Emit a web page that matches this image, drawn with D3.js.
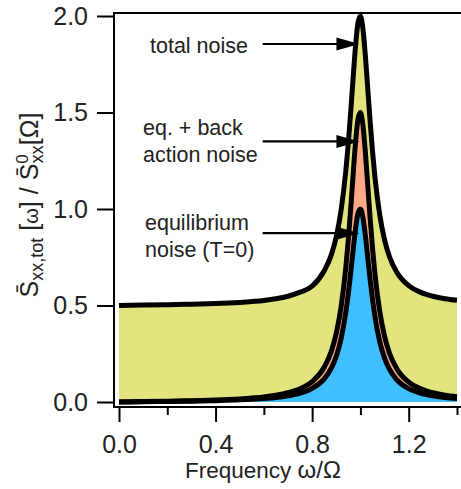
<!DOCTYPE html>
<html>
<head>
<meta charset="utf-8">
<script src="https://cdn.jsdelivr.net/npm/d3@7"></script>
<style>
  body { margin: 0; background: #fff; }
  svg { font-family: "Liberation Sans", Arial, Helvetica, sans-serif; }
</style>
</head>
<body>
<svg id="chart" width="461" height="489"></svg>
<script>
// values (spectra normalised to the equilibrium peak)
const freq = [0, 0.1, 0.2, 0.3, 0.4, 0.5, 0.6, 0.65, 0.7, 0.75, 0.8, 0.85, 0.88, 0.9, 0.92, 0.94, 0.95, 0.96, 0.97, 0.98, 0.99,
  1.0, 1.01, 1.02, 1.03, 1.04, 1.05, 1.06, 1.08, 1.1, 1.12, 1.15, 1.2, 1.25, 1.3, 1.35, 1.4]
const eqNoise = [0, 0.001, 0.003, 0.004, 0.007, 0.011, 0.018, 0.023, 0.032, 0.046, 0.071, 0.120, 0.177, 0.237, 0.329, 0.469, 0.563, 0.672, 0.789, 0.899, 0.978,
  1.0, 0.959, 0.868, 0.753, 0.637, 0.533, 0.444, 0.313, 0.227, 0.170, 0.116, 0.069, 0.045, 0.032, 0.023, 0.018]
const eqBackAction = [0, 0.002, 0.004, 0.007, 0.010, 0.016, 0.026, 0.035, 0.048, 0.069, 0.106, 0.180, 0.265, 0.356, 0.494, 0.704, 0.844, 1.007, 1.183, 1.349, 1.466,
  1.5, 1.438, 1.302, 1.130, 0.956, 0.799, 0.666, 0.469, 0.340, 0.254, 0.174, 0.103, 0.068, 0.048, 0.035, 0.027]
const totalNoise = [0.5, 0.502, 0.504, 0.507, 0.510, 0.516, 0.526, 0.535, 0.548, 0.569, 0.600, 0.680, 0.765, 0.856, 0.994, 1.204, 1.344, 1.507, 1.683, 1.849, 1.966,
  2.0, 1.938, 1.802, 1.630, 1.456, 1.299, 1.166, 0.969, 0.840, 0.754, 0.674, 0.603, 0.568, 0.548, 0.535, 0.527]

const xMajor = [0, 0.4, 0.8, 1.2]
const xMinor = [0.2, 0.6, 1.0, 1.4]
const yTicks = [0, 0.5, 1.0, 1.5, 2.0]

// annotation: text lines, and the level the arrow points at
const notes = [
  { lines: ['total noise'], x: 150, y: 53, arrow: 1.855 },
  { lines: ['eq. + back', 'action noise'], x: 143, y: 135, arrow: 1.35 },
  { lines: ['equilibrium', 'noise (T=0)'], x: 145, y: 230, arrow: 0.875 }
]

const svg = d3.select('#chart')
const frame = { left: 114, top: 13, bottom: 407, right: 461 }

const x = d3.scaleLinear().domain([0, 1.4]).range([119, 457])
const y = d3.scaleLinear().domain([0, 2]).range([402, 16])

const rows = freq.map((f, i) => ({ f, eq: eqNoise[i], ba: eqBackAction[i], tot: totalNoise[i] }))

const area = (lo, hi) => d3.area()
  .x(d => x(d.f))
  .y0(d => y(lo(d)))
  .y1(d => y(hi(d)))
  .curve(d3.curveMonotoneX)

svg.append('path').datum(rows)
  .attr('fill', '#e4e47f')
  .attr('d', area(d => d.ba, d => d.tot))
svg.append('path').datum(rows)
  .attr('fill', '#fda985')
  .attr('d', area(d => d.eq, d => d.ba))
svg.append('path').datum(rows)
  .attr('fill', '#3fbfff')
  .attr('d', area(() => 0, d => d.eq))

const line = key => d3.line()
  .x(d => x(d.f))
  .y(d => y(d[key]))
  .curve(d3.curveMonotoneX)

;['tot', 'ba', 'eq'].forEach(k => {
  svg.append('path').datum(rows)
    .attr('fill', 'none')
    .attr('stroke', '#000')
    .attr('stroke-width', 5)
    .attr('stroke-linejoin', 'round')
    .attr('d', line(k))
})

// frame
svg.append('path')
  .attr('fill', 'none')
  .attr('stroke', '#000')
  .attr('stroke-width', 2)
  .attr('d', `M${frame.right},${frame.top}H${frame.left}V${frame.bottom}H${frame.right}`)

const styleAxis = g => {
  g.select('.domain').remove()
  g.selectAll('.tick line').attr('stroke', '#000').attr('stroke-width', 2)
  g.selectAll('.tick text').attr('fill', '#222').attr('font-size', 25)
    .attr('font-family', '"Liberation Sans", Arial, sans-serif')
}

svg.append('g')
  .attr('transform', `translate(0,${frame.bottom})`)
  .call(d3.axisBottom(x).tickValues(xMajor).tickSize(15).tickPadding(13).tickFormat(d3.format('.1f')))
  .call(styleAxis)

svg.append('g')
  .attr('transform', `translate(0,${frame.bottom})`)
  .call(d3.axisBottom(x).tickValues(xMinor).tickSize(8).tickFormat(''))
  .call(styleAxis)

svg.append('g')
  .attr('transform', `translate(${frame.left},0)`)
  .call(d3.axisLeft(y).tickValues(yTicks).tickSize(17).tickPadding(9).tickFormat(d3.format('.1f')))
  .call(styleAxis)

// x label
const xl = svg.append('text')
  .attr('x', 185)
  .attr('y', 478)
  .attr('font-size', 22.5)
  .attr('fill', '#222')
xl.append('tspan').text('Frequency ')
xl.append('tspan').attr('font-size', 24).text('ω/Ω')

// y label
const yl = svg.append('text')
  .attr('transform', 'translate(38,205) rotate(-90)')
  .attr('text-anchor', 'middle')
  .attr('font-size', 25)
  .attr('fill', '#222')
yl.append('tspan').text('S\u0304')
yl.append('tspan').attr('font-size', 18).attr('dy', 5).text('xx,tot')
yl.append('tspan').attr('dy', -5).text(' [')
yl.append('tspan').attr('font-size', 20).text('ω')
yl.append('tspan').text('] / S\u0304')
yl.append('tspan').attr('font-size', 17).attr('dy', -10).text('0')
yl.append('tspan').attr('font-size', 18).attr('dx', -9).attr('dy', 15).text('xx')
yl.append('tspan').attr('dy', -5).text('[Ω]')

// annotations with arrows
const ann = svg.append('g')
notes.forEach(n => {
  const t = ann.append('text')
    .attr('font-size', 21.5)
    .attr('fill', '#222')
  n.lines.forEach((s, i) => {
    t.append('tspan').attr('x', n.x).attr('y', n.y + i * 26.5).text(s)
  })
  const ay = y(n.arrow)
  const tip = x(1.0) - 1
  ann.append('line')
    .attr('x1', x(0.595)).attr('x2', tip - 18)
    .attr('y1', ay).attr('y2', ay)
    .attr('stroke', '#000')
    .attr('stroke-width', 2.2)
  ann.append('path')
    .attr('fill', '#000')
    .attr('d', `M${tip},${ay}L${tip - 23},${ay - 6.5}L${tip - 23},${ay + 6.5}Z`)
})
</script>
</body>
</html>
